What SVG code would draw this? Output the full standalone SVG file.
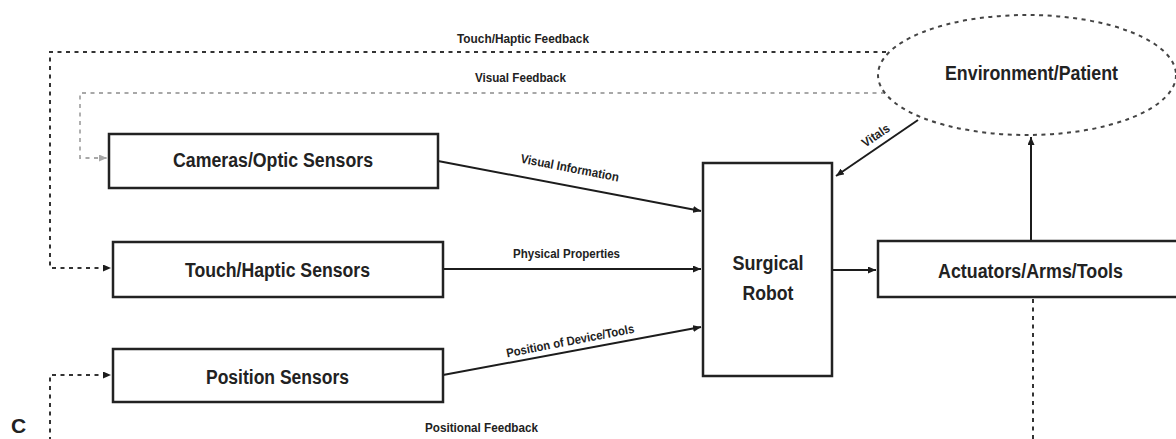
<svg xmlns="http://www.w3.org/2000/svg" width="1176" height="439" viewBox="0 0 1176 439">
<style>
.box{fill:#fff;stroke:#222;stroke-width:2.5}
.lbl{font-family:"Liberation Sans",Arial,sans-serif;font-weight:bold;font-size:20px;fill:#222;text-anchor:middle}
.sm{font-family:"Liberation Sans",Arial,sans-serif;font-weight:bold;font-size:12.5px;fill:#222;text-anchor:middle}
.solid{fill:none;stroke:#1c1c1c;stroke-width:2}
.dash{fill:none;stroke:#333;stroke-width:2;stroke-dasharray:4 4.5}
.gdash{fill:none;stroke:#a8a8a8;stroke-width:1.8;stroke-dasharray:4 4.5}
</style>
<defs>
<marker id="ah" markerUnits="userSpaceOnUse" markerWidth="9" markerHeight="7" refX="8" refY="3.5" orient="auto"><path d="M0,0 L8,3.5 L0,7 z" fill="#1c1c1c"/></marker>
<marker id="ahg" markerUnits="userSpaceOnUse" markerWidth="9" markerHeight="7" refX="8" refY="3.5" orient="auto"><path d="M0,0 L8,3.5 L0,7 z" fill="#a8a8a8"/></marker>
</defs>
<rect width="1176" height="439" fill="#fff"/>

<g id="connectors">
<path class="dash" d="M886,52 H50 V268 H111" marker-end="url(#ah)"/>
<path class="gdash" d="M885,93 H80 V158 H107" marker-end="url(#ahg)"/>
<path class="dash" d="M1033,299 V448 H50 V375 H111" marker-end="url(#ah)"/>
<path class="solid" d="M438,161 L701,211" marker-end="url(#ah)"/>
<path class="solid" d="M443,269 H701" marker-end="url(#ah)"/>
<path class="solid" d="M443,375 L701,327" marker-end="url(#ah)"/>
<path class="solid" d="M918,120 L836,176" marker-end="url(#ah)"/>
<path class="solid" d="M832,270 H876" marker-end="url(#ah)"/>
<path class="solid" d="M1031,241 V137" marker-end="url(#ah)"/>
<text class="sm" x="523" y="43" textLength="132" lengthAdjust="spacingAndGlyphs">Touch/Haptic Feedback</text>
<text class="sm" x="520.5" y="82" textLength="91" lengthAdjust="spacingAndGlyphs">Visual Feedback</text>
<text class="sm" x="569" y="172" textLength="100" lengthAdjust="spacingAndGlyphs" transform="rotate(11 569 172)">Visual Information</text>
<text class="sm" x="566.5" y="258" textLength="107" lengthAdjust="spacingAndGlyphs">Physical Properties</text>
<text class="sm" x="571" y="345" textLength="130" lengthAdjust="spacingAndGlyphs" transform="rotate(-11 571 345)">Position of Device/Tools</text>
<text class="sm" x="878" y="139" textLength="31" lengthAdjust="spacingAndGlyphs" transform="rotate(-34 878 139)">Vitals</text>
<text class="sm" x="481.5" y="432" textLength="113" lengthAdjust="spacingAndGlyphs">Positional Feedback</text>
</g>

<g id="env">
<ellipse cx="1027" cy="75" rx="149" ry="60" fill="none" stroke="#444" stroke-width="2" stroke-dasharray="4 4.5"/>
<text class="lbl" x="1031.5" y="80" textLength="173" lengthAdjust="spacingAndGlyphs">Environment/Patient</text>
</g>
<g id="cameras">
<rect class="box" x="109" y="134" width="329" height="54"/>
<text class="lbl" x="273" y="167" textLength="200" lengthAdjust="spacingAndGlyphs">Cameras/Optic Sensors</text>
</g>
<g id="touch">
<rect class="box" x="113" y="242" width="330" height="55"/>
<text class="lbl" x="277.5" y="277" textLength="185" lengthAdjust="spacingAndGlyphs">Touch/Haptic Sensors</text>
</g>
<g id="position">
<rect class="box" x="113" y="349" width="330" height="53"/>
<text class="lbl" x="277.5" y="384" textLength="143" lengthAdjust="spacingAndGlyphs">Position Sensors</text>
</g>
<g id="robot">
<rect class="box" x="703" y="163" width="129" height="213"/>
<text class="lbl" x="768" y="270" textLength="71" lengthAdjust="spacingAndGlyphs">Surgical</text>
<text class="lbl" x="768" y="300" textLength="51" lengthAdjust="spacingAndGlyphs">Robot</text>
</g>
<g id="actuators">
<rect class="box" x="878" y="241" width="310" height="56"/>
<text class="lbl" x="1030.5" y="278" textLength="185" lengthAdjust="spacingAndGlyphs">Actuators/Arms/Tools</text>
</g>
<g id="panel-label">
<text x="11" y="433" font-family="Liberation Sans, Arial, sans-serif" font-weight="bold" font-size="21" fill="#222">C</text>
</g>
</svg>
